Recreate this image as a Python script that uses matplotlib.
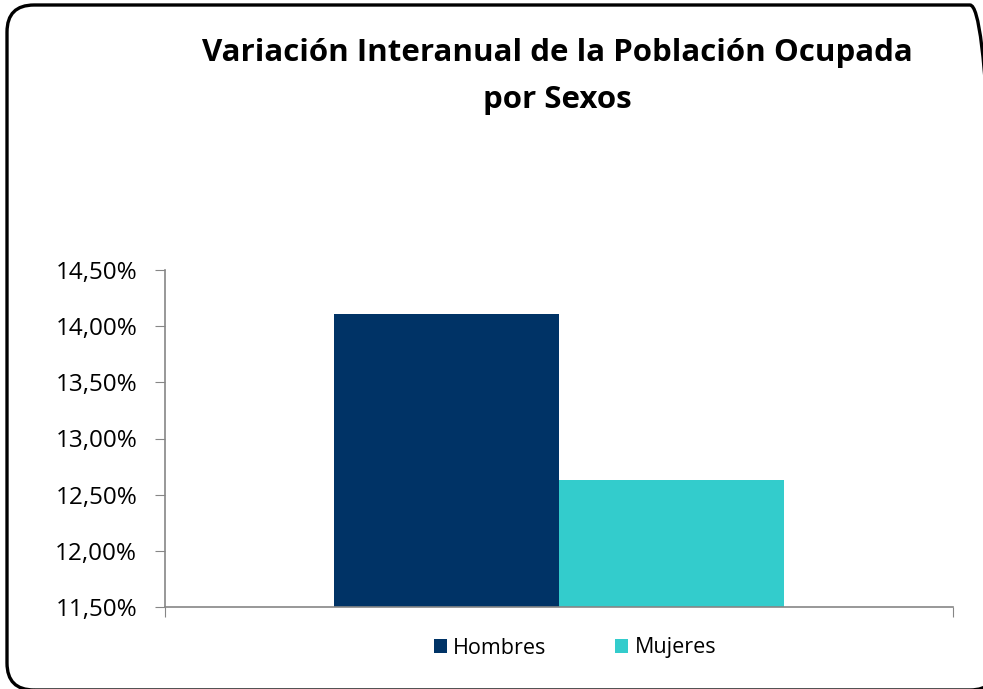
import matplotlib.pyplot as plt
from matplotlib.patches import FancyBboxPatch, Patch
from matplotlib.ticker import FuncFormatter

# Data
categories = ["Hombres", "Mujeres"]
values = [14.11, 12.635]
colors = ["#003366", "#33CCCC"]
yticks = [11.5, 12.0, 12.5, 13.0, 13.5, 14.0, 14.5]

plt.rcParams["font.family"] = ["Open Sans", "DejaVu Sans"]

fig = plt.figure(figsize=(9.83, 6.89), dpi=100)

# Rounded border around the chart area (figure fraction)
border = FancyBboxPatch(
    (7 / 983, -1 / 689), 990 / 983, 685 / 689,
    boxstyle="round,pad=0,rounding_size=0.0275",
    transform=fig.transFigure, mutation_aspect=983 / 689,
    facecolor="none", edgecolor="black", linewidth=2.4, zorder=-1,
)
fig.patches.append(border)

ax = fig.add_axes([165 / 983, 1 - 607 / 689, 788 / 983, 337 / 689])
ax.set_facecolor("none")

width = 0.2855
offsets = [-width / 2, width / 2]
for cat, val, col, off in zip(categories, values, colors, offsets):
    ax.bar(off, val - yticks[0], width=width, bottom=yticks[0],
           color=col, label=cat)

ax.set_xlim(-0.5, 0.5)
ax.set_ylim(yticks[0], yticks[-1])
ax.set_yticks(yticks)
ax.yaxis.set_major_formatter(
    FuncFormatter(lambda v, p: f"{v:.2f}".replace(".", ",") + "%"))
ax.tick_params(axis="y", labelsize=17.5, length=7, color="#868686",
               direction="out", pad=13)
ax.set_xticks([-0.5, 0.5])
ax.set_xticklabels(["", ""])
ax.tick_params(axis="x", length=7, color="#868686", direction="out")

for side in ["top", "right"]:
    ax.spines[side].set_visible(False)
for side in ["left", "bottom"]:
    ax.spines[side].set_color("#868686")
    ax.spines[side].set_linewidth(1.2)

fig.text(557 / 983, 1 - 53 / 689, "Variación Interanual de la Población Ocupada",
         ha="center", va="center", fontsize=22.5, fontweight="bold")
fig.text(557 / 983, 1 - 100 / 689, "por Sexos",
         ha="center", va="center", fontsize=22.5, fontweight="bold")

handles = [Patch(facecolor=c, label=l) for c, l in zip(colors, categories)]
fig.legend(handles=handles, loc="center", bbox_to_anchor=(575 / 983, 1 - 648 / 689),
           ncol=2, frameon=False, fontsize=15.5, handlelength=0.6, handleheight=0.6,
           handletextpad=0.3, columnspacing=3.2)

plt.savefig("out.png", dpi=100)
